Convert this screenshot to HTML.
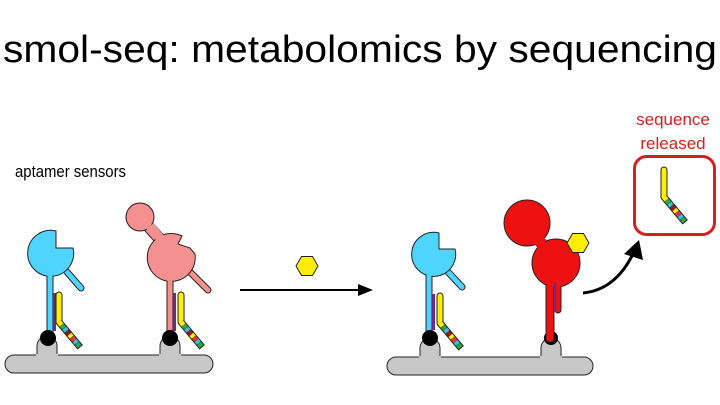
<!DOCTYPE html>
<html><head><style>html,body{margin:0;padding:0;background:#fff}svg{display:block}</style></head>
<body>
<svg width="720" height="405" viewBox="0 0 720 405" xmlns="http://www.w3.org/2000/svg" font-family="Liberation Sans, Arial, sans-serif">
<defs>
  <g id="tag">
    <path d="M0,0 L0,27" stroke="#222" stroke-width="7" stroke-linecap="round"/>
    <path d="M0,0 L0,27" stroke="#ffee00" stroke-width="5" stroke-linecap="round"/>
    <g transform="translate(0,27) rotate(-40)">
      <rect x="-3.5" y="0" width="7" height="33" fill="#222"/>
      <rect x="-2.5" y="0" width="5" height="4" fill="#ffee00"/>
      <rect x="-2.5" y="4.2" width="5" height="3.6" fill="#2aa84a"/>
      <rect x="-2.5" y="8.2" width="5" height="3.6" fill="#40c0e0"/>
      <rect x="-2.5" y="12.2" width="5" height="3.6" fill="#9c1a1a"/>
      <rect x="-2.5" y="16.2" width="5" height="3.6" fill="#ffee00"/>
      <rect x="-2.5" y="20.2" width="5" height="3.6" fill="#e83a2a"/>
      <rect x="-2.5" y="24.2" width="5" height="3.6" fill="#40c0e0"/>
      <rect x="-2.5" y="28.2" width="5" height="3.8" fill="#2aa84a"/>
    </g>
  </g>
  <g id="hex"><polygon points="-11,0 -5.5,-9.5 5.5,-9.5 11,0 5.5,9.5 -5.5,9.5" fill="#ffee00" stroke="#222" stroke-width="1"/></g>
</defs>

<text x="3" y="62" font-size="38" textLength="714" lengthAdjust="spacingAndGlyphs" fill="#000">smol-seq: metabolomics by sequencing</text>
<text x="15" y="177" font-size="17" textLength="111" lengthAdjust="spacingAndGlyphs" fill="#000">aptamer sensors</text>
<text x="673" y="125" font-size="17" text-anchor="middle" fill="#d42020">sequence</text>
<text x="673" y="149" font-size="17" text-anchor="middle" fill="#d42020">released</text>

<!-- left base -->
<path d="M37,355 L37,346 A10,10 0 0 1 57,346 L57,355 Z" fill="#c8c8c8" stroke="#222" stroke-width="1"/>
<path d="M160,355 L160,346 A10,10 0 0 1 180,346 L180,355 Z" fill="#c8c8c8" stroke="#222" stroke-width="1"/>
<rect x="5" y="355" width="208" height="18" rx="9" fill="#c8c8c8" stroke="#222" stroke-width="1"/>
<rect x="36" y="354" width="22" height="3" fill="#c8c8c8"/>
<rect x="159" y="354" width="22" height="3" fill="#c8c8c8"/>

<!-- blue aptamer left -->
<line x1="67" y1="272" x2="81" y2="288" stroke="#222" stroke-width="7" stroke-linecap="round"/>
<line x1="67" y1="272" x2="81" y2="288" stroke="#4fd4ff" stroke-width="5" stroke-linecap="round"/>
<rect x="47" y="262" width="6" height="76" fill="#4fd4ff" stroke="#222" stroke-width="1"/>
<path d="M56,231 L56,248 L73,248 A23,23 0 1 1 56,231 Z" fill="#4fd4ff" stroke="#222" stroke-width="1"/>
<rect x="47.5" y="270" width="5" height="10" fill="#4fd4ff"/>
<rect x="53" y="293" width="3" height="38" fill="#6a2a8a"/>
<use href="#tag" x="59" y="295"/>
<circle cx="48" cy="338" r="8" fill="#000"/>

<!-- pink aptamer -->
<line x1="186" y1="268" x2="208" y2="290" stroke="#222" stroke-width="7" stroke-linecap="round"/>
<line x1="186" y1="268" x2="208" y2="290" stroke="#f59090" stroke-width="5" stroke-linecap="round"/>
<rect x="167" y="270" width="6" height="68" fill="#f59090" stroke="#222" stroke-width="1"/>
<line x1="140" y1="217" x2="165" y2="245" stroke="#222" stroke-width="12"/>
<line x1="140" y1="217" x2="165" y2="245" stroke="#f59090" stroke-width="10"/>
<circle cx="140" cy="217" r="14" fill="#f59090" stroke="#222" stroke-width="1"/>
<path d="M182,236 L178,244 L190,248 L195,254 A24,24 0 1 1 182,236 Z" fill="#f59090" stroke="#222" stroke-width="1"/>
<rect x="167.5" y="272" width="5" height="10" fill="#f59090"/>
<line x1="150" y1="226" x2="160" y2="238" stroke="#f59090" stroke-width="9"/>
<rect x="173" y="293" width="3" height="38" fill="#6a2a8a"/>
<use href="#tag" x="181" y="295"/>
<circle cx="170" cy="338" r="8" fill="#000"/>

<!-- middle arrow and hexagon -->
<use href="#hex" x="307" y="266"/>
<line x1="240" y1="290" x2="360" y2="290" stroke="#000" stroke-width="2"/>
<polygon points="373,290 358,284 358,296" fill="#000"/>

<!-- right base -->
<path d="M420,357 L420,348 A10,10 0 0 1 440,348 L440,357 Z" fill="#c8c8c8" stroke="#222" stroke-width="1"/>
<path d="M541,357 L541,348 A10,10 0 0 1 561,348 L561,357 Z" fill="#c8c8c8" stroke="#222" stroke-width="1"/>
<rect x="387" y="357" width="206" height="18" rx="9" fill="#c8c8c8" stroke="#222" stroke-width="1"/>
<rect x="419" y="356" width="22" height="3" fill="#c8c8c8"/>
<rect x="540" y="356" width="22" height="3" fill="#c8c8c8"/>

<!-- blue aptamer right -->
<line x1="448" y1="272" x2="462" y2="287" stroke="#222" stroke-width="7" stroke-linecap="round"/>
<line x1="448" y1="272" x2="462" y2="287" stroke="#4fd4ff" stroke-width="5" stroke-linecap="round"/>
<rect x="426" y="262" width="6" height="76" fill="#4fd4ff" stroke="#222" stroke-width="1"/>
<path d="M439,233 L439,249 L455,249 A22,22 0 1 1 439,233 Z" fill="#4fd4ff" stroke="#222" stroke-width="1"/>
<rect x="426.5" y="270" width="5" height="10" fill="#4fd4ff"/>
<rect x="432" y="294" width="3" height="36" fill="#6a2a8a"/>
<use href="#tag" x="440" y="296"/>
<circle cx="430" cy="338" r="8" fill="#000"/>

<!-- red aptamer -->
<circle cx="551" cy="338" r="7" fill="#000"/>
<rect x="555" y="270" width="6" height="43" rx="3" fill="#ee1111" stroke="#222" stroke-width="1"/>
<rect x="546" y="270" width="8" height="72" rx="3" fill="#ee1111" stroke="#222" stroke-width="1"/>
<circle cx="527" cy="223" r="23" fill="#ee1111" stroke="#222" stroke-width="1"/>
<circle cx="556" cy="263" r="24" fill="#ee1111" stroke="#222" stroke-width="1"/>
<path d="M535,245 Q540,240 544,243" stroke="#ee1111" stroke-width="8" fill="none"/>
<rect x="546.5" y="280" width="7" height="8" fill="#ee1111"/>
<rect x="555.5" y="280" width="5" height="8" fill="#ee1111"/>
<rect x="554" y="282" width="2" height="30" fill="#6a2a8a"/>
<use href="#hex" x="578" y="243"/>

<!-- curved arrow -->
<path d="M583,293 Q615,290 633,254" fill="none" stroke="#000" stroke-width="3"/>
<polygon points="639,240 624,254 643,260" fill="#000"/>

<!-- released box -->
<rect x="634.5" y="156.5" width="80" height="78" rx="12" fill="#fff" stroke="#d42020" stroke-width="3"/>
<use href="#tag" x="664" y="170"/>
</svg>
</body></html>
